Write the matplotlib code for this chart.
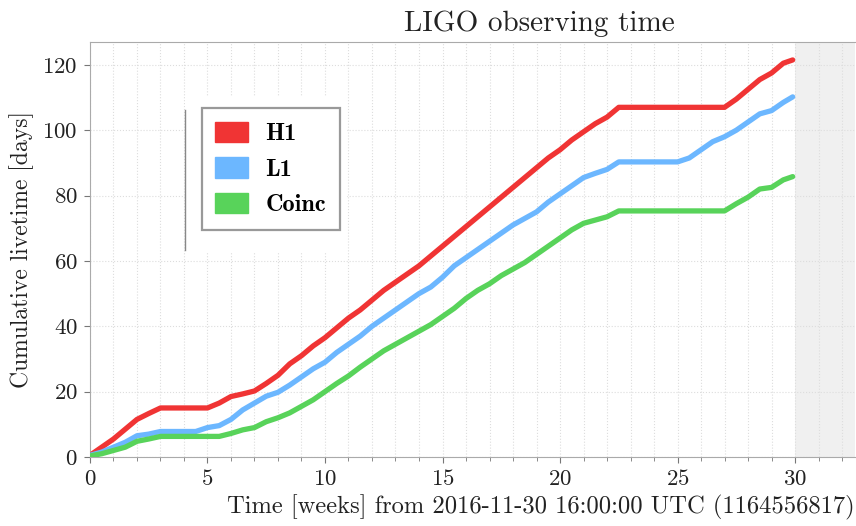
import matplotlib
matplotlib.use("Agg")
import matplotlib.pyplot as plt
from matplotlib.patches import Patch, Rectangle
from matplotlib.ticker import MultipleLocator

plt.rcParams['font.family'] = ['cmr10', 'DejaVu Serif']
plt.rcParams['axes.formatter.use_mathtext'] = True
plt.rcParams['mathtext.fontset'] = 'cm'

weeks = [0, 0.5, 1, 1.5, 2, 2.5, 3, 3.5, 4, 4.5, 5, 5.5, 6, 6.5, 7, 7.5, 8, 8.5, 9, 9.5,
         10, 10.5, 11, 11.5, 12, 12.5, 13, 13.5, 14, 14.5, 15, 15.5, 16, 16.5, 17, 17.5,
         18, 18.5, 19, 19.5, 20, 20.5, 21, 21.5, 22, 22.5, 23, 23.5, 24, 24.5, 25, 25.5,
         26, 26.5, 27, 27.5, 28, 28.5, 29, 29.5, 29.9]

h1 = [0.5, 3, 5.5, 8.5, 11.5, 13.3, 15, 15, 15, 15, 15, 16.5, 18.5, 19.3, 20.2, 22.5,
      25, 28.5, 31, 34, 36.5, 39.5, 42.5, 45, 48, 51, 53.5, 56, 58.5, 61.5, 64.5, 67.5,
      70.5, 73.5, 76.5, 79.5, 82.5, 85.5, 88.5, 91.5, 94, 97, 99.5, 102, 104, 107, 107,
      107, 107, 107, 107, 107, 107, 107, 107, 109.5, 112.5, 115.5, 117.5, 120.5, 121.5]

l1 = [0.5, 1.5, 3, 4.5, 6.5, 7, 7.8, 7.8, 7.8, 7.8, 9, 9.6, 11.5, 14.4, 16.5, 18.6,
      19.8, 22, 24.5, 27, 29, 32, 34.5, 37, 40, 42.5, 45, 47.5, 50, 52, 55, 58.5, 61,
      63.5, 66, 68.5, 71, 73, 75, 78, 80.5, 83, 85.5, 86.8, 88, 90.3, 90.3, 90.3, 90.3,
      90.3, 90.3, 91.5, 94, 96.5, 98, 100, 102.5, 105, 106, 108.5, 110.2]

coinc = [0.3, 1.0, 2.0, 3.0, 4.8, 5.5, 6.3, 6.3, 6.3, 6.3, 6.3, 6.3, 7.2, 8.3, 9.0,
         10.8, 12, 13.5, 15.5, 17.5, 20, 22.5, 24.8, 27.5, 30, 32.5, 34.5, 36.5, 38.5,
         40.5, 43, 45.5, 48.5, 51, 53, 55.5, 57.5, 59.5, 62, 64.5, 67, 69.5, 71.5, 72.5,
         73.5, 75.3, 75.3, 75.3, 75.3, 75.3, 75.3, 75.3, 75.3, 75.3, 75.3, 77.5, 79.5,
         82, 82.5, 84.8, 85.8]

labels = ["H1", "L1", "Coinc"]
colors = ["#f03434", "#6cb7ff", "#58d35a"]

fig = plt.figure(figsize=(8.56, 5.26), dpi=100)
ax = fig.add_axes([0.1051, 0.1312, 0.8937, 0.789])

for y, c in zip([h1, l1, coinc], colors):
    ax.plot(weeks, y, color=c, lw=3.8, solid_capstyle='round', solid_joinstyle='round', zorder=3)

# future (not yet observed) region
ax.axvspan(30, 32.55, color='#f0f0f0', zorder=0.1, lw=0)

ax.set_xlim(0, 32.55)
ax.set_ylim(0, 127)
ax.xaxis.set_major_locator(MultipleLocator(5))
ax.xaxis.set_minor_locator(MultipleLocator(1))
ax.yaxis.set_major_locator(MultipleLocator(20))

ax.set_axisbelow(True)
ax.grid(which='major', color='#dddddd', ls=':', lw=0.8)
ax.grid(which='minor', axis='x', color='#dddddd', ls=':', lw=0.8)

for s in ax.spines.values():
    s.set_color('#aaaaaa')
ax.spines['right'].set_visible(False)
ax.tick_params(which='both', colors='#777777', labelcolor='#222222', labelsize=16.5)
ax.tick_params(which='major', length=4, pad=5)
ax.tick_params(which='minor', length=3)

ax.set_xlabel("Time [weeks] from 2016-11-30 16:00:00 UTC (1164556817)",
              fontsize=17.7, color='#222222', loc='right', labelpad=4)
ax.set_ylabel("Cumulative livetime [days]", fontsize=17, color='#222222', labelpad=6)
ax.set_title("LIGO observing time", fontsize=21, color='#222222', x=0.588, pad=8)

# blank area behind the legend
ax.add_patch(Rectangle((0.124, 0.492), 0.212, 0.375, transform=ax.transAxes,
                       facecolor='white', edgecolor='none', zorder=1))
ax.plot([0.124, 0.124], [0.499, 0.836], transform=ax.transAxes, color='#888888', lw=1, zorder=2)

handles = [Patch(facecolor=c, edgecolor=c, label=l) for l, c in zip(labels, colors)]
leg = ax.legend(handles=handles, loc='upper left', bbox_to_anchor=(0.146, 0.84),
                borderaxespad=0, frameon=True, fancybox=False, framealpha=1,
                prop={'family': 'cmb10', 'size': 17.5},
                handlelength=1.36, handleheight=0.9, handletextpad=0.72, labelspacing=0.5,
                borderpad=0.55)
leg.get_frame().set_edgecolor('#999999')
leg.get_frame().set_linewidth(1.6)

fig.savefig("out.png", dpi=100)
